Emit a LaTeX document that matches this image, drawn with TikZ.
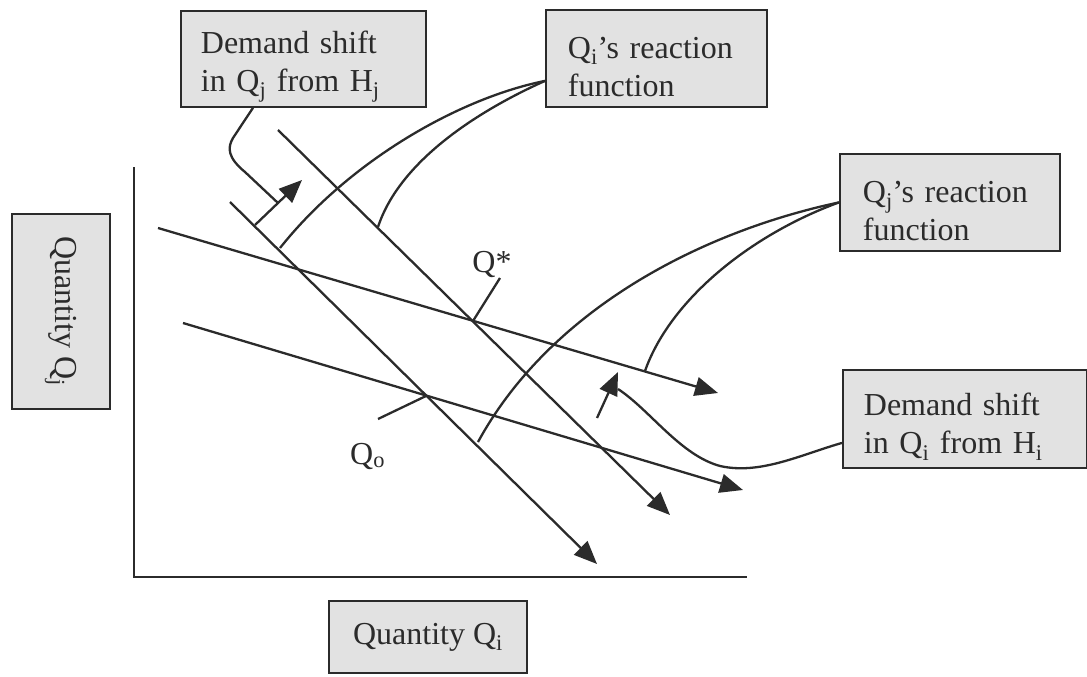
\documentclass[tikz,border=0pt]{standalone}
\usepackage{fontspec}
\setmainfont{Liberation Serif}
\usetikzlibrary{arrows.meta}
\definecolor{ink}{HTML}{2B2B2B}
\definecolor{boxfill}{HTML}{E2E2E2}
\newcommand{\tallstrut}{\rule{0pt}{38pt}}
\begin{document}
\begin{tikzpicture}[x=1pt,y=-1pt,
  lbox/.style={draw=ink, line width=1.8pt, fill=boxfill, text=ink,
    font=\fontsize{32}{38}\selectfont, inner ysep=0pt},
  ln/.style={draw=ink, line width=2.3pt},
  arr/.style={ln, -{Triangle[length=23pt,width=19pt]}},
  lab/.style={text=ink, font=\fontsize{32}{38}\selectfont, inner sep=0pt}]
\path[use as bounding box] (0,0) rectangle (1087,677);

% boxes
\node[lbox, anchor=north west, align=left, inner xsep=20pt, text width=205pt, minimum height=96pt] (A) at (180,10)
  {\tallstrut Demand shift\\in Q\textsubscript{j} from H\textsubscript{j}};
\node[lbox, anchor=north west, align=left, inner xsep=22pt, text width=177pt, minimum height=97pt] (B) at (545,9)
  {\tallstrut Q\textsubscript{i}’s reaction\\function};
\node[lbox, anchor=north west, align=left, inner xsep=23pt, text width=174pt, minimum height=97pt] (C) at (839,153)
  {\tallstrut Q\textsubscript{j}’s reaction\\function};
\node[lbox, anchor=north west, align=left, inner xsep=21pt, text width=202pt, minimum height=98pt] (D) at (842,369)
  {\tallstrut Demand shift\\in Q\textsubscript{i} from H\textsubscript{i}};
\node[lbox, rotate=-90, align=center, minimum width=195pt, minimum height=98pt] (E) at (61,311.5)
  {Quantity Q\textsubscript{j}};
\node[lbox, align=center, minimum width=198pt, minimum height=72pt] (F) at (428,637)
  {Quantity Q\textsubscript{i}};

% axes
\coordinate (ax0) at (134,167);
\coordinate (axo) at (134,577);
\coordinate (ax1) at (747,577);
\draw[ln] (ax0) -- (axo) -- (ax1);

% reaction lines
\coordinate (l1s) at (158,228); \coordinate (l1e) at (718,393);
\coordinate (l2s) at (183,323); \coordinate (l2e) at (743,490);
\coordinate (l3s) at (278,130); \coordinate (l3e) at (670,515);
\coordinate (l4s) at (230,202); \coordinate (l4e) at (597,564);
\draw[arr] (l1s) -- (l1e);
\draw[arr] (l2s) -- (l2e);
\draw[arr] (l3s) -- (l3e);
\draw[arr] (l4s) -- (l4e);

% shift arrows
\coordinate (sj0) at (255,225); \coordinate (sj1) at (302,180);
\coordinate (si0) at (597,418); \coordinate (si1) at (618,372);
\draw[arr] (sj0) -- (sj1);
\draw[arr] (si0) -- (si1);

% equilibrium labels
\node[lab, anchor=base] (qs) at (492,272) {Q*};
\coordinate (qsl) at (500,278); \coordinate (qsx) at (473,321);
\draw[ln] (qsl) -- (qsx);
\node[lab, anchor=base west] (qo) at (350,464) {Q\textsubscript{o}};
\coordinate (qol) at (378,419); \coordinate (qox) at (426,396);
\draw[ln] (qol) -- (qox);

% callouts
\coordinate (Aa) at ([xshift=73pt]A.south west);
\coordinate (Ae) at (278,203);
\draw[ln] (Aa) -- (233,138) .. controls (227,148) and (228,158) .. (245,172) -- (Ae);

\coordinate (Ba) at ([yshift=-22.5pt]B.west);
\coordinate (B1e) at (280,248);
\coordinate (B2e) at (378,227);
\draw[ln] (Ba) .. controls (460,98) and (350,160) .. (B1e);
\draw[ln] (Ba) .. controls (480,110) and (400,160) .. (B2e);

\coordinate (Ca) at (C.west);
\coordinate (C1e) at (478,442);
\coordinate (C2e) at (645,371);
\draw[ln] (Ca) .. controls (700,232) and (550,310) .. (C1e);
\draw[ln] (Ca) .. controls (750,235) and (670,300) .. (C2e);

\coordinate (Da) at ([yshift=-24pt]D.west);
\coordinate (De) at (618,389);
\draw[ln] (Da) .. controls (800,455) and (760,475) .. (720,466) .. controls (680,455) and (650,410) .. (De);
\end{tikzpicture}
\end{document}
